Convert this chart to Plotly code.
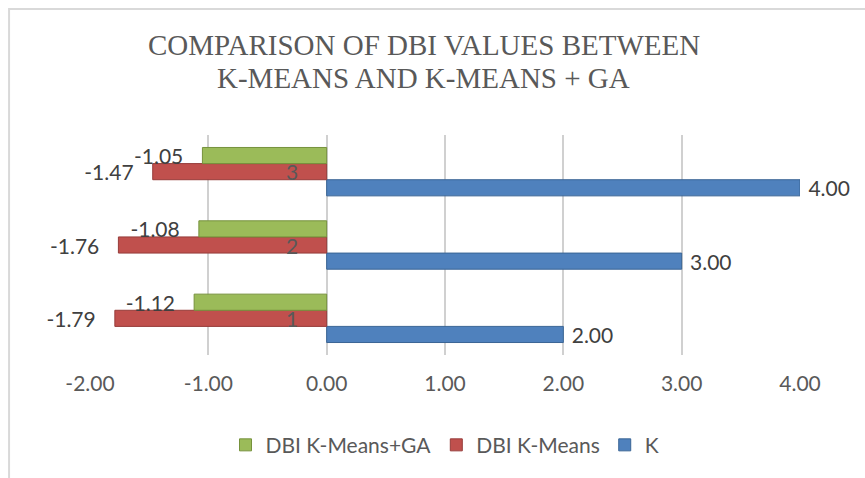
import plotly.graph_objects as go

categories = [1, 2, 3]
k_values = [2.00, 3.00, 4.00]
dbi_kmeans = [-1.79, -1.76, -1.47]
dbi_kmeans_ga = [-1.12, -1.08, -1.05]
x_ticks = [-2, -1, 0, 1, 2, 3, 4]
x_tick_labels = ["-2.00", "-1.00", "0.00", "1.00", "2.00", "3.00", "4.00"]
title_lines = ["COMPARISON OF DBI VALUES BETWEEN", "K-MEANS AND K-MEANS + GA"]

GRAY = "#595959"
FONT = "Lato, 'Open Sans', sans-serif"
SERIF = "'Liberation Serif', 'Times New Roman', serif"
NB = "\u00a0"

fig = go.Figure()
series = [
    ("K", k_values, "#4F81BD", "#3A6595", NB * 1 + "%{x:.2f}"),
    ("DBI K-Means", dbi_kmeans, "#C0504D", "#963C3A", "%{x:.2f}" + NB * 3),
    ("DBI K-Means+GA", dbi_kmeans_ga, "#9BBB59", "#76923C", "%{x:.2f}" + NB * 3),
]
for name, vals, col, edge, tmpl in series:
    fig.add_trace(go.Bar(
        y=categories, x=vals, name=name, orientation="h",
        marker=dict(color=col, line=dict(color=edge, width=1)),
        texttemplate=tmpl, textposition="outside",
        textfont=dict(family=FONT, size=21, color="#404040"),
        cliponaxis=False, constraintext="none",
    ))

for c in categories:
    fig.add_annotation(x=0, y=c, text=str(c), showarrow=False,
                       xanchor="right", xshift=-27,
                       font=dict(family=FONT, size=21, color=GRAY))

# two-line title
for line, ypos in zip(title_lines, [1.41, 1.26]):
    fig.add_annotation(xref="paper", yref="paper", x=0.47, y=ypos, text=line,
                       showarrow=False, xanchor="center", yanchor="middle",
                       font=dict(family=SERIF, size=29, color=GRAY))

# chart frame (top and left edges visible)
fig.add_shape(type="rect", xref="paper", yref="paper",
              x0=-0.114, x1=1.2, y0=-0.7, y1=1.573,
              line=dict(color="#d9d9d9", width=2), layer="below")

fig.update_layout(
    width=865, height=478,
    margin=dict(l=90, r=65, t=135, b=123, autoexpand=False),
    paper_bgcolor="white", plot_bgcolor="white",
    barmode="group", bargap=0.34, bargroupgap=0,
    xaxis=dict(range=[-2, 4], tickvals=x_ticks, ticktext=x_tick_labels,
               showgrid=True, gridcolor="#d0d0d0", gridwidth=1.5,
               zeroline=True, zerolinecolor="#d0d0d0", zerolinewidth=1.5,
               showline=False, ticks="", ticklabelstandoff=14,
               tickfont=dict(family=FONT, size=21, color=GRAY)),
    yaxis=dict(range=[0.5, 3.5], showticklabels=False, showgrid=False,
               zeroline=False, showline=False),
    showlegend=True,
    legend=dict(orientation="h", traceorder="reversed", x=0.5, xanchor="center",
                y=-0.41, yanchor="middle",
                font=dict(family=FONT, size=21, color=GRAY)),
)

fig.write_html("out.html", config={"displayModeBar": False},
               post_script="document.body.style.margin='0px';")
